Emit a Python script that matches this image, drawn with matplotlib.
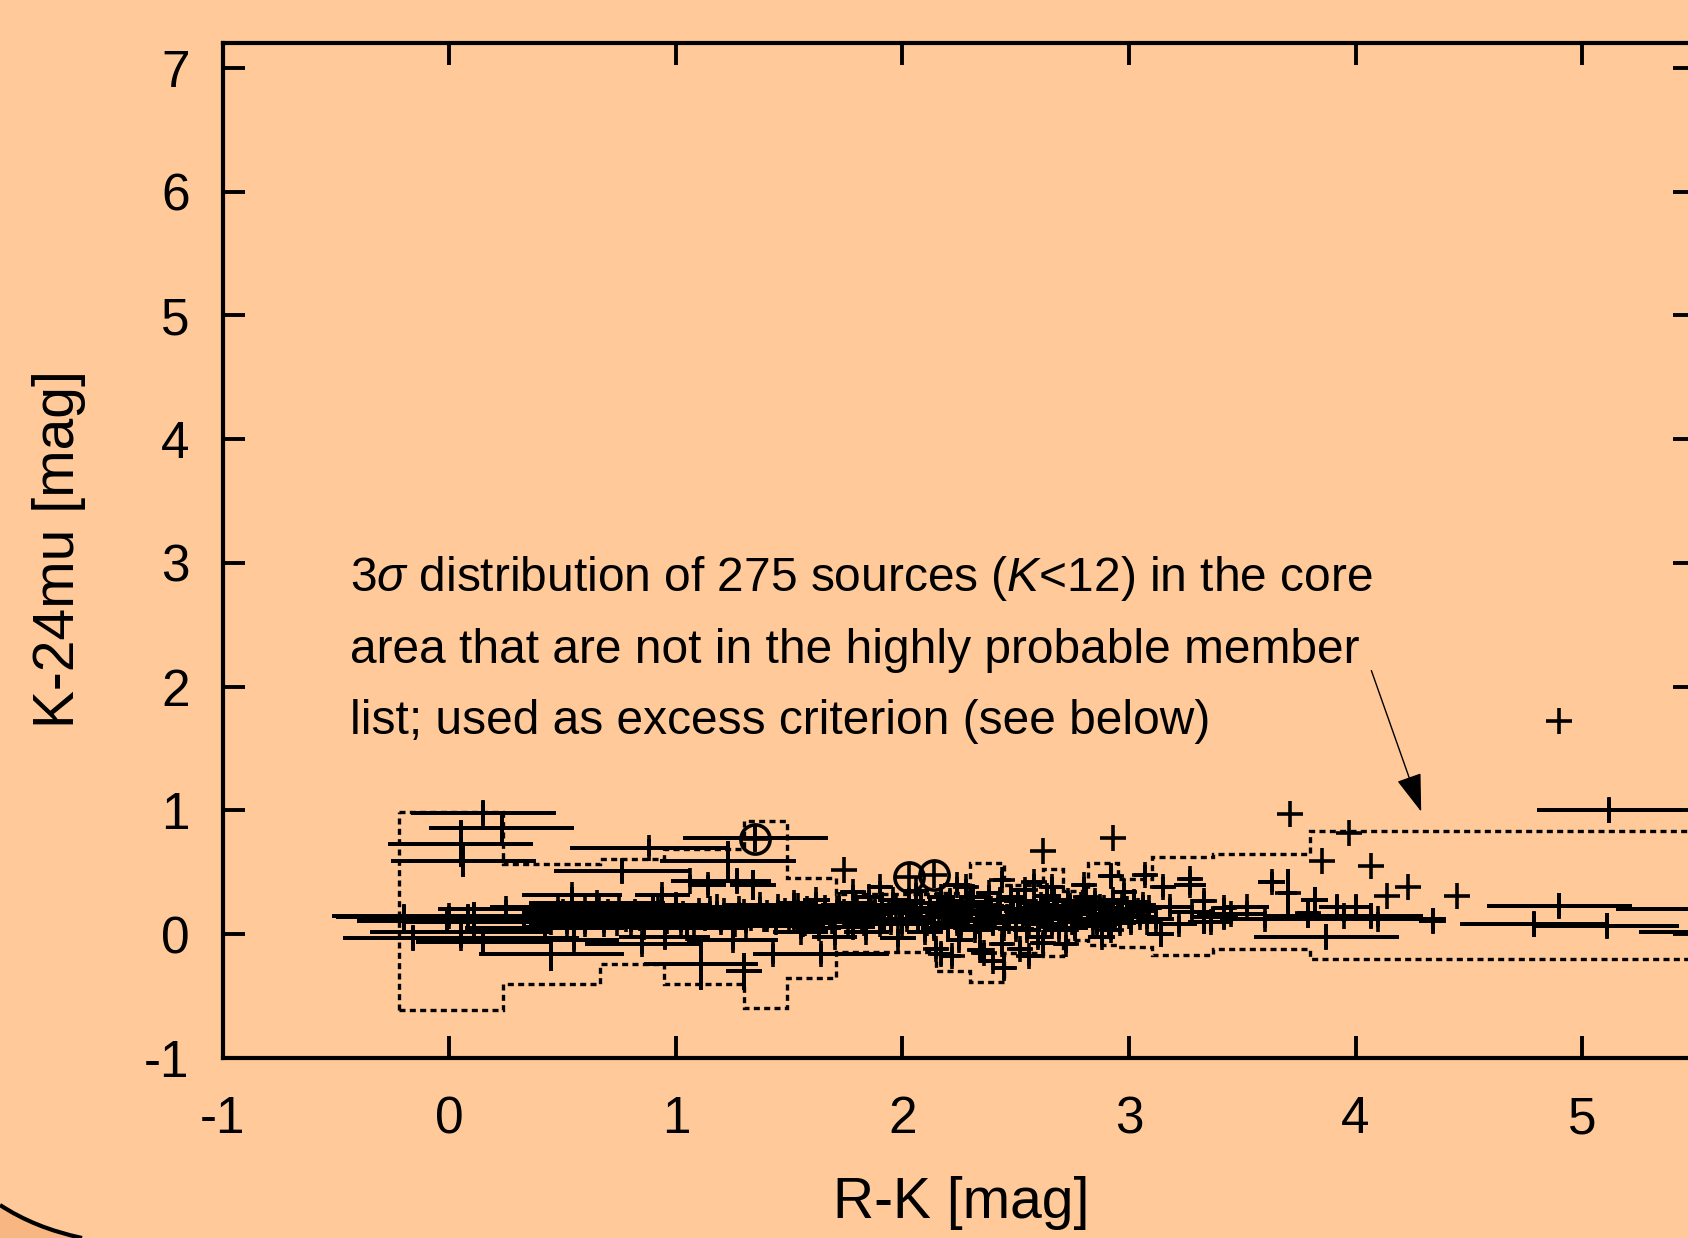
import numpy as np
import matplotlib
matplotlib.use("Agg")
import matplotlib.pyplot as plt
from matplotlib.path import Path
from matplotlib.patches import PathPatch

plt.rcParams['font.family'] = ['Liberation Sans', 'DejaVu Sans']
plt.rcParams['mathtext.fontset'] = 'custom'
plt.rcParams['mathtext.rm'] = 'Liberation Sans'
plt.rcParams['mathtext.it'] = 'Liberation Sans:italic'
plt.rcParams['axes.unicode_minus'] = False

# sources with error bars, left part (R-K < 1.5)
left_x = [0.15, 0.23, 0.05, 0.06, -0.20, -0.01, 0.08, 0.11, -0.16, 0.15,
          0.45, 0.33, 0.42, 0.25, 0.05, 0.00, 0.05, 0.54, 0.76, 0.88,
          0.94, 1.23, 1.27, 1.34, 1.06, 1.14, 1.11, 1.30, 1.43, 0.60,
          0.70, 0.80, 0.65, 0.90, 1.00, 1.05, 1.15, 1.20, 1.30, 1.40,
          1.45, 0.55, 0.85, 0.95, 1.25, 0.48]
left_y = [0.98, 0.86, 0.73, 0.59, 0.135, 0.11, 0.14, 0.10, -0.03, -0.06,
          -0.16, 0.12, 0.05, 0.20, 0.02, 0.15, -0.03, 0.32, 0.51, 0.70,
          0.32, 0.59, 0.43, 0.40, 0.43, 0.40, -0.24, -0.30, -0.16, 0.08,
          0.18, 0.10, 0.25, 0.22, 0.15, 0.05, 0.20, 0.10, 0.18, 0.12,
          0.22, -0.05, -0.08, -0.02, -0.05, 0.22]
left_xerr = [0.32, 0.32, 0.32, 0.32, 0.30, 0.40, 0.30, 0.30, 0.30, 0.30,
             0.32, 0.35, 0.35, 0.30, 0.40, 0.52, 0.52, 0.22, 0.30, 0.35,
             0.12, 0.30, 0.15, 0.10, 0.08, 0.08, 0.25, 0.08, 0.05, 0.25,
             0.25, 0.20, 0.30, 0.25, 0.25, 0.25, 0.20, 0.20, 0.20, 0.20,
             0.15, 0.20, 0.25, 0.20, 0.20, 0.30]
left_yerr = [0.10, 0.13, 0.19, 0.125, 0.10, 0.10, 0.10, 0.16, 0.10, 0.08,
             0.14, 0.10, 0.08, 0.08, 0.08, 0.08, 0.08, 0.06, 0.10, 0.07,
             0.06, 0.16, 0.10, 0.12, 0.05, 0.08, 0.21, 0.15, 0.08, 0.08,
             0.07, 0.08, 0.06, 0.08, 0.07, 0.08, 0.07, 0.08, 0.06, 0.08,
             0.06, 0.08, 0.08, 0.10, 0.08, 0.06]

# dense core (1.3 < R-K < 3.2)
core_x = [1.35, 1.64, 1.52, 1.58, 1.63, 1.68, 1.72, 1.76, 1.80, 1.84,
          1.88, 1.92, 1.96, 2.00, 2.04, 2.08, 2.10, 2.13, 2.17, 2.20,
          2.22, 2.25, 2.27, 2.30, 2.32, 2.35, 2.38, 2.40, 2.42, 2.44,
          2.46, 2.48, 2.50, 2.52, 2.54, 2.56, 2.58, 2.60, 2.62, 2.64,
          2.66, 2.68, 2.70, 2.73, 2.76, 2.78, 2.81, 2.84, 2.87, 2.90,
          2.93, 2.96, 2.99, 3.02, 3.05, 3.09, 1.55, 1.70, 1.85, 1.98,
          2.06, 2.15, 2.28, 2.36, 2.52, 2.58, 2.72, 2.80, 2.88, 2.98,
          1.62, 1.78, 1.90, 2.24, 2.44, 2.66, 2.40, 2.22, 2.56, 2.17,
          2.45, 2.34, 2.62, 2.92, 2.92, 3.07, 3.15]
core_y = [0.78, -0.16, 0.12, 0.20, 0.05, 0.15, 0.24, 0.10, 0.18, 0.02,
          0.22, 0.12, 0.28, 0.08, 0.18, 0.25, 0.02, 0.14, 0.30, 0.07,
          0.20, -0.05, 0.12, 0.26, 0.03, 0.17, 0.33, 0.09, 0.22, -0.08,
          0.14, 0.30, 0.04, 0.19, 0.36, 0.10, 0.25, -0.02, 0.15, 0.31,
          0.07, 0.21, 0.12, 0.27, 0.05, 0.18, 0.30, 0.10, 0.22, 0.15,
          0.28, 0.09, 0.20, 0.26, 0.14, 0.21, 0.02, -0.02, 0.30, -0.03,
          0.35, -0.12, 0.38, -0.15, -0.12, 0.42, -0.08, 0.40, -0.02, 0.34,
          0.28, 0.34, 0.38, 0.40, 0.44, 0.38, -0.22, -0.18, -0.18, -0.16,
          -0.27, -0.13, -0.07, 0.03, 0.47, 0.48, 0.38]
core_xerr = [0.32, 0.30, 0.10, 0.08, 0.10, 0.12, 0.08, 0.10, 0.09, 0.10,
             0.10, 0.08, 0.07, 0.10, 0.08, 0.09, 0.08, 0.10, 0.06, 0.08,
             0.09, 0.06, 0.10, 0.07, 0.08, 0.09, 0.05, 0.08, 0.07, 0.05,
             0.09, 0.06, 0.08, 0.07, 0.05, 0.09, 0.07, 0.06, 0.08, 0.06,
             0.07, 0.08, 0.06, 0.07, 0.06, 0.08, 0.05, 0.07, 0.06, 0.07,
             0.06, 0.07, 0.06, 0.07, 0.06, 0.05, 0.12, 0.10, 0.06, 0.08,
             0.05, 0.05, 0.05, 0.05, 0.05, 0.04, 0.05, 0.05, 0.06, 0.05,
             0.06, 0.05, 0.05, 0.06, 0.04, 0.05, 0.04, 0.04, 0.05, 0.05,
             0.05, 0.05, 0.05, 0.05, 0.05, 0.05, 0.05]
core_yerr = [0.10, 0.08, 0.08, 0.06, 0.07, 0.08, 0.07, 0.06, 0.08, 0.07,
             0.06, 0.09, 0.06, 0.08, 0.07, 0.09, 0.08, 0.07, 0.08, 0.10,
             0.06, 0.08, 0.08, 0.09, 0.07, 0.08, 0.07, 0.10, 0.08, 0.08,
             0.07, 0.09, 0.08, 0.09, 0.08, 0.07, 0.06, 0.09, 0.08, 0.07,
             0.08, 0.09, 0.07, 0.08, 0.09, 0.07, 0.08, 0.07, 0.08, 0.09,
             0.07, 0.08, 0.06, 0.08, 0.07, 0.06, 0.06, 0.07, 0.06, 0.07,
             0.06, 0.08, 0.07, 0.08, 0.07, 0.07, 0.07, 0.06, 0.07, 0.07,
             0.06, 0.06, 0.05, 0.06, 0.07, 0.08, 0.07, 0.08, 0.08, 0.09,
             0.10, 0.08, 0.08, 0.08, 0.10, 0.08, 0.08]

# the main locus, packed between K-24mu of 0 and 0.3
band_x = [0.45, 0.50, 0.55, 0.60, 0.63, 0.68, 0.72, 0.75, 0.78, 0.82,
          0.86, 0.88, 0.92, 0.96, 1.00, 1.03, 1.08, 1.10, 1.13, 1.18,
          1.22, 1.26, 1.28, 1.33, 1.37, 1.40, 1.44, 1.48, 1.50, 1.54,
          1.57, 1.60, 1.66, 1.69, 1.74, 1.78, 1.82, 1.86, 1.90, 1.94,
          1.97, 2.02, 2.06, 2.11, 2.16, 2.19, 2.23, 2.26, 2.29, 2.33,
          2.37, 2.41, 2.45, 2.49, 2.53, 2.57, 2.61, 2.65, 2.69, 2.72,
          2.75, 2.79, 2.83, 2.86, 2.89, 2.94, 2.97, 3.00, 3.04, 3.08]
band_y = [0.10, 0.18, 0.12, 0.20, 0.14, 0.08, 0.16, 0.22, 0.12, 0.18,
          0.06, 0.15, 0.20, 0.11, 0.24, 0.16, 0.10, 0.19, 0.13, 0.22,
          0.15, 0.08, 0.20, 0.13, 0.24, 0.17, 0.10, 0.19, 0.14, 0.23,
          0.09, 0.17, 0.21, 0.11, 0.18, 0.06, 0.13, 0.20, 0.08, 0.17,
          0.22, 0.12, 0.20, 0.09, 0.18, 0.24, 0.14, 0.06, 0.19, 0.11,
          0.23, 0.15, 0.05, 0.20, 0.12, 0.17, 0.24, 0.13, 0.03, 0.18,
          0.10, 0.24, 0.16, 0.07, 0.21, 0.12, 0.25, 0.15, 0.19, 0.10]
band_xerr = [0.20, 0.18, 0.15, 0.20, 0.15, 0.18, 0.15, 0.20, 0.15, 0.18,
             0.15, 0.20, 0.15, 0.18, 0.15, 0.20, 0.15, 0.18, 0.15, 0.20,
             0.15, 0.18, 0.15, 0.20, 0.15, 0.18, 0.15, 0.20, 0.15, 0.12,
             0.12, 0.12, 0.10, 0.10, 0.10, 0.10, 0.10, 0.10, 0.10, 0.10,
             0.08, 0.10, 0.08, 0.10, 0.08, 0.08, 0.08, 0.08, 0.08, 0.08,
             0.08, 0.08, 0.08, 0.08, 0.08, 0.08, 0.08, 0.08, 0.07, 0.08,
             0.07, 0.08, 0.07, 0.08, 0.07, 0.08, 0.07, 0.08, 0.07, 0.06]
band_yerr = [0.06, 0.05, 0.06, 0.05, 0.06, 0.07, 0.05, 0.05, 0.06, 0.05,
             0.07, 0.05, 0.06, 0.05, 0.06, 0.05, 0.06, 0.05, 0.07, 0.05,
             0.06, 0.05, 0.06, 0.05, 0.06, 0.05, 0.07, 0.05, 0.06, 0.05,
             0.06, 0.05, 0.06, 0.05, 0.06, 0.07, 0.05, 0.06, 0.05, 0.06,
             0.05, 0.07, 0.05, 0.06, 0.05, 0.06, 0.05, 0.07, 0.06, 0.05,
             0.06, 0.05, 0.07, 0.06, 0.05, 0.06, 0.05, 0.06, 0.07, 0.05,
             0.06, 0.05, 0.06, 0.07, 0.05, 0.06, 0.05, 0.06, 0.05, 0.06]

fill_x = [1.52, 1.56, 1.61, 1.65, 1.71, 1.75, 1.79, 1.83, 1.87, 1.91,
          1.95, 1.99, 2.03, 2.07, 2.12, 2.14, 2.18, 2.21, 2.24, 2.28,
          2.31, 2.34, 2.39, 2.43, 2.47, 2.51, 2.55, 2.59, 2.63, 2.67,
          2.71, 2.74, 2.77, 2.82, 2.85, 2.91, 2.95, 3.01, 3.06, 0.52,
          0.58, 0.66, 0.74, 0.84, 0.93, 1.02, 1.12, 1.21, 1.31, 1.39,
          1.47]
fill_y = [0.25, 0.08, 0.18, 0.12, 0.20, 0.15, 0.25, 0.09, 0.16, 0.24,
          0.10, 0.18, 0.27, 0.11, 0.21, 0.05, 0.15, 0.27, 0.09, 0.16,
          0.30, 0.07, 0.20, 0.28, 0.11, 0.27, 0.03, 0.18, 0.08, 0.28,
          0.16, 0.23, 0.12, 0.20, 0.27, 0.08, 0.18, 0.10, 0.24, 0.06,
          0.15, 0.20, 0.09, 0.13, 0.17, 0.08, 0.14, 0.19, 0.07, 0.12,
          0.16]
fill_xerr = [0.08, 0.08, 0.08, 0.08, 0.08, 0.08, 0.07, 0.07, 0.07, 0.07,
             0.07, 0.07, 0.07, 0.07, 0.07, 0.06, 0.06, 0.06, 0.06, 0.06,
             0.06, 0.06, 0.06, 0.06, 0.06, 0.06, 0.06, 0.06, 0.06, 0.06,
             0.06, 0.06, 0.06, 0.06, 0.06, 0.06, 0.06, 0.06, 0.06, 0.20,
             0.20, 0.20, 0.20, 0.20, 0.20, 0.20, 0.20, 0.20, 0.20, 0.20,
             0.20]
fill_yerr = [0.08, 0.09, 0.08, 0.09, 0.08, 0.09, 0.08, 0.09, 0.08, 0.09,
             0.08, 0.09, 0.08, 0.09, 0.08, 0.09, 0.08, 0.09, 0.08, 0.09,
             0.08, 0.09, 0.08, 0.09, 0.08, 0.09, 0.08, 0.09, 0.08, 0.09,
             0.08, 0.09, 0.08, 0.09, 0.08, 0.09, 0.08, 0.09, 0.08, 0.06,
             0.06, 0.06, 0.06, 0.06, 0.06, 0.06, 0.06, 0.06, 0.06, 0.06,
             0.06]

# red end (R-K > 3.1) and isolated excess sources
red_x = [3.12, 3.18, 3.22, 3.28, 3.36, 3.45, 3.52, 3.60, 3.14, 3.33,
         3.42, 3.63, 3.70, 3.27, 3.82, 3.92, 4.00, 4.07, 3.79, 3.87,
         4.34, 3.95, 4.10, 4.79, 5.11, 4.90, 5.12, 4.90, 3.71, 3.97,
         3.85, 4.07, 4.23, 4.45, 4.14, 5.60, 5.80, 1.74, 2.62, 2.93,
         3.33, 3.42, 3.27]
red_y = [0.12, 0.22, 0.08, 0.18, 0.10, 0.16, 0.22, 0.12, 0.00, 0.14,
         0.14, 0.42, 0.33, 0.40, 0.28, 0.22, 0.22, 0.15, 0.17, -0.02,
         0.11, 0.15, 0.12, 0.08, 0.07, 0.23, 1.00, 1.72, 0.97, 0.82,
         0.59, 0.55, 0.38, 0.31, 0.31, 0.20, 0.02, 0.52, 0.67, 0.78,
         0.27, 0.21, 0.45]
red_xerr = [0.08, 0.10, 0.08, 0.10, 0.10, 0.15, 0.10, 0.20, 0.06, 0.05,
            0.06, 0.06, 0.04, 0.07, 0.06, 0.08, 0.06, 0.06, 0.05, 0.32,
            0.06, 0.35, 0.30, 0.33, 0.32, 0.32, 0.32, 0.00, 0.00, 0.00,
            0.00, 0.00, 0.00, 0.00, 0.00, 0.45, 0.55, 0.00, 0.00, 0.00,
            0.05, 0.05, 0.05]
red_yerr = [0.08, 0.07, 0.07, 0.06, 0.08, 0.06, 0.05, 0.07, 0.10, 0.14,
            0.10, 0.08, 0.20, 0.08, 0.10, 0.10, 0.10, 0.10, 0.12, 0.10,
            0.10, 0.05, 0.06, 0.10, 0.10, 0.10, 0.10, 0.00, 0.00, 0.00,
            0.00, 0.00, 0.00, 0.00, 0.00, 0.10, 0.10, 0.00, 0.00, 0.00,
            0.08, 0.08, 0.07]

# circled sources
circ_x = [1.35, 2.03, 2.14]
circ_y = [0.77, 0.46, 0.48]

# 3 sigma envelope of the comparison sample
env_edges = [-0.225, 0.238, 0.665, 0.948, 1.30, 1.49, 1.706, 2.146, 2.30,
             2.45, 2.62, 2.71, 2.82, 2.95, 3.10, 3.37, 3.80, 5.60]
env_upper = [0.99, 0.565, 0.605, 0.686, 0.915, 0.457, 0.325, 0.33, 0.578,
             0.40, 0.525, 0.35, 0.578, 0.45, 0.624, 0.651, 0.83]
env_lower = [-0.61, -0.40, -0.237, -0.40, -0.593, -0.35, -0.14, -0.30, -0.39,
             -0.15, -0.175, -0.05, -0.086, -0.10, -0.167, -0.121, -0.20]

note_lines = [r"3$\sigma$ distribution of 275 sources ($K$<12) in the core",
              "area that are not in the highly probable member",
              "list; used as excess criterion (see below)"]

bg = '#FFC999'
fig = plt.figure(figsize=(16.88, 12.38), dpi=100, facecolor=bg)
ax = fig.add_axes([0.1321, 0.1454, 0.8722, 0.8199])
ax.set_facecolor(bg)

lw = 2.6
for xs, ys, xe, ye in [(left_x, left_y, left_xerr, left_yerr),
                       (band_x, band_y, band_xerr, band_yerr),
                       (fill_x, fill_y, fill_xerr, fill_yerr),
                       (core_x, core_y, core_xerr, core_yerr),
                       (red_x, red_y, red_xerr, red_yerr)]:
    eb = ax.errorbar(xs, ys, xerr=xe, yerr=ye, fmt='+', color='k', ms=19,
                     mew=lw, elinewidth=lw, capsize=0)
    eb[0].set_antialiased(False)
    for coll in eb[2]:
        coll.set_antialiased(False)

ax.plot(circ_x, circ_y, '+', color='k', ms=19, mew=lw, antialiased=False)
ax.plot(circ_x, circ_y, 'o', mfc='none', mec='k', ms=21, mew=2.6)

dots = (0, (1.8, 1.3))
ax.stairs(env_upper, env_edges, baseline=None, color='k', lw=2.4, ls=dots)
ax.stairs(env_lower, env_edges, baseline=None, color='k', lw=2.4, ls=dots)
ax.vlines(env_edges[0], env_lower[0], env_upper[0], color='k', lw=2.4, ls=dots)

ax.annotate('', xy=(4.29, 0.99), xytext=(4.07, 2.13),
            arrowprops=dict(arrowstyle='-|>,head_length=1.2,head_width=0.4',
                            mutation_scale=20, lw=1.0, color='k',
                            shrinkA=0, shrinkB=0))

for i, line in enumerate(note_lines):
    ax.text(-0.44, 2.77 - 0.575 * i, line, fontsize=34.5, ha='left', va='baseline')

ax.set_xlim(-1, 5.5)
ax.set_ylim(-1, 7.2)
ax.set_xticks(range(-1, 6))
ax.set_yticks(range(-1, 8))
ax.tick_params(direction='in', length=15.5, width=2.8, top=True, right=True,
               labelsize=37, color='k')
ax.tick_params(axis='x', pad=27)
ax.tick_params(axis='y', pad=24)
for s in ax.spines.values():
    s.set_linewidth(3.0)

fig.text(961 / 1688, 1 - 1203 / 1238, 'R-K [mag]', ha='center', va='center', fontsize=41)
fig.text(59 / 1688, 1 - 549 / 1238, 'K-24mu [mag]', ha='center', va='center',
         rotation=90, fontsize=41)

# corner of the slide frame
p0 = (0.0, 1 - 1205 / 1238)
pc = (35 / 1688, 1 - 1228 / 1238)
p2 = (82 / 1688, 0.0)
corner = Path([p0, pc, p2, (0, 0), p0],
              [Path.MOVETO, Path.CURVE3, Path.CURVE3, Path.LINETO, Path.CLOSEPOLY])
fig.add_artist(PathPatch(corner, transform=fig.transFigure, fc='#F8B682', ec='none'))
edge = Path([p0, pc, p2], [Path.MOVETO, Path.CURVE3, Path.CURVE3])
fig.add_artist(PathPatch(edge, transform=fig.transFigure, fc='none', ec='k', lw=3))

fig.savefig('out.png', dpi=100, facecolor=bg)
